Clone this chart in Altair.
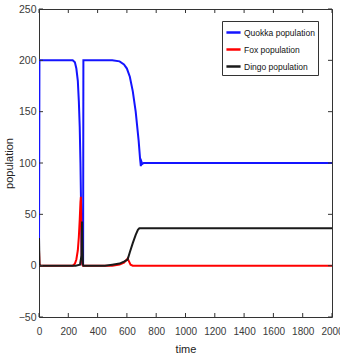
import altair as alt
import pandas as pd

# Simulated populations over time (read at key time points)
t_quokka = [0, 3, 100, 200, 230, 245, 255, 265, 272, 278, 283, 287, 290, 293, 298, 301, 303,
            400, 500, 550, 580, 600, 620, 640, 660, 680, 690, 695, 700, 705, 715, 2000]
v_quokka = [2, 200, 200, 200, 200, 198, 192, 180, 160, 135, 100, 60, 25, 3, 1, 1, 200,
            200, 200, 199, 196, 192, 184, 170, 150, 122, 104, 97, 101, 99, 100, 100]

t_fox = [0, 4, 230, 245, 255, 265, 272, 278, 283, 286, 289, 292, 296, 300,
         500, 550, 580, 600, 605, 615, 625, 640, 2000]
v_fox = [15, 0, 0, 2, 6, 15, 28, 45, 62, 67, 40, 10, 1, 0,
         0, 1, 3, 6, 7, 4, 1, 0, 0]

t_dingo = [0, 3, 6, 250, 280, 290, 294, 297, 300, 303, 450, 500, 550, 580, 605,
           620, 640, 660, 675, 685, 2000]
v_dingo = [27, 2, 0, 0, 1, 10, 43, 20, 1, 0, 0, 1, 2, 4, 6,
           13, 22, 30, 35, 36.5, 36.5]

series_names = ["Quokka population", "Fox population", "Dingo population"]
series_colors = ["#1414ff", "#ff0000", "#1a1a1a"]

x_ticks = [0, 200, 400, 600, 800, 1000, 1200, 1400, 1600, 1800, 2000]
y_ticks = [-50, 0, 50, 100, 150, 200, 250]

W, H = 293, 308

rows = []
for name, ts, vs in zip(series_names, [t_quokka, t_fox, t_dingo], [v_quokka, v_fox, v_dingo]):
    for t, v in zip(ts, vs):
        rows.append({"time": t, "population": v, "series": name})
df = pd.DataFrame(rows)

xs = alt.Scale(domain=[0, 2000], nice=False, zero=False)
ys = alt.Scale(domain=[-50, 250], nice=False, zero=False)

font = "Liberation Sans"

x_axis = alt.Axis(values=x_ticks, format="d", labelOverlap=False, title="time",
                  ticks=False, labelPadding=9, domain=False, grid=False,
                  labelFont=font, labelFontSize=10, labelColor="#3a3a3a",
                  titleFont=font, titleFontSize=11, titleFontWeight="normal",
                  titleColor="#222", titlePadding=7, labelFlush=False)
y_axis = alt.Axis(values=y_ticks, format="d", labelOverlap=False, title="population",
                  ticks=False, labelPadding=3, domain=False, grid=False,
                  labelFont=font, labelFontSize=10.5, labelColor="#3a3a3a",
                  titleFont=font, titleFontSize=11, titleFontWeight="normal",
                  titleColor="#222", titlePadding=4)

lines = alt.Chart(df).mark_line(strokeWidth=2, clip=True).encode(
    x=alt.X("time:Q", scale=xs, axis=x_axis),
    y=alt.Y("population:Q", scale=ys, axis=y_axis),
    color=alt.Color("series:N",
                    scale=alt.Scale(domain=series_names, range=series_colors),
                    legend=alt.Legend(title=None, orient="none", legendX=183, legendY=12,
                                      symbolType="M-1,0H1", symbolSize=200,
                                      symbolStrokeWidth=2.5, labelFont=font,
                                      labelFontSize=8.5, labelColor="#111",
                                      strokeColor="#333", fillColor="white",
                                      padding=3, rowPadding=3, labelOffset=2)),
    order=alt.Order("series:N"),
    detail="series:N",
)

xt = pd.DataFrame({"time": x_ticks})
yt = pd.DataFrame({"population": y_ticks})

bottom_ticks = alt.Chart(xt).mark_rule(color="#333", strokeWidth=1).encode(
    x=alt.X("time:Q", scale=xs, axis=x_axis), y=alt.value(H), y2=alt.value(H - 4))
top_ticks = alt.Chart(xt).mark_rule(color="#333", strokeWidth=1).encode(
    x=alt.X("time:Q", scale=xs, axis=x_axis), y=alt.value(0), y2=alt.value(4))
left_ticks = alt.Chart(yt).mark_rule(color="#333", strokeWidth=1).encode(
    y=alt.Y("population:Q", scale=ys, axis=y_axis), x=alt.value(0), x2=alt.value(4))
right_ticks = alt.Chart(yt).mark_rule(color="#333", strokeWidth=1).encode(
    y=alt.Y("population:Q", scale=ys, axis=y_axis), x=alt.value(W), x2=alt.value(W - 4))

chart = alt.layer(lines, bottom_ticks, top_ticks, left_ticks, right_ticks).properties(
    width=W, height=H,
    autosize=alt.AutoSizeParams(type="none"),
    padding={"left": 39, "top": 9, "right": 8, "bottom": 44},
    background="white",
).configure_view(stroke="#333", strokeWidth=1)

chart.save("out.html", embed_options={"renderer": "svg", "actions": False})
